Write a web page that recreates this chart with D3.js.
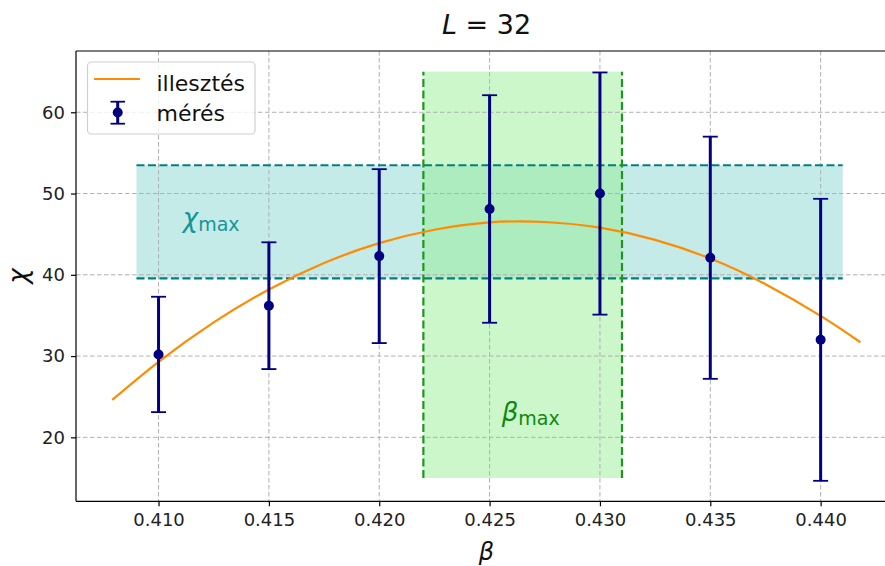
<!DOCTYPE html>
<html>
<head>
<meta charset="utf-8">
<script src="https://cdn.jsdelivr.net/npm/d3@7"></script>
<style>
  html, body { margin: 0; padding: 0; background: #fff; }
  svg { display: block; }
  text { font-family: "DejaVu Sans", sans-serif; }
</style>
</head>
<body>
<svg id="chart" width="885" height="566"></svg>
<script>
// ---- data ----
const betaVals = [0.410, 0.415, 0.420, 0.425, 0.430, 0.435, 0.440];
const chiVals  = [30.2, 36.2, 42.3, 48.1, 50.0, 42.1, 32.0];
const chiErr   = [7.1, 7.8, 10.7, 14.0, 14.9, 14.9, 17.35];

const fitBeta = [0.4079, 0.410, 0.4125, 0.415, 0.4175, 0.420, 0.4225, 0.425, 0.4275, 0.430, 0.4325, 0.435, 0.4375, 0.440, 0.4418];
const fitChi  = [24.6, 29.3, 34.15, 38.2, 41.45, 43.9, 45.55, 46.45, 46.5, 45.8, 44.3, 42.0, 38.85, 34.95, 31.7];

const chiMaxBand  = [39.55, 53.48];   // chi range of the horizontal band
const chiBandBeta = [0.409, 0.441];   // beta extent of that band
const betaMaxBand = [0.422, 0.431];   // beta range of the vertical band
const betaBandChi = [15, 65];         // chi extent of that band

const xTicks = [0.410, 0.415, 0.420, 0.425, 0.430, 0.435, 0.440];
const yTicks = [20, 30, 40, 50, 60];

const xDomain = [0.40626, 0.44346];
const yDomain = [12.13, 67.54];

const chiLabelPos  = [0.4111, 45.9];
const betaLabelPos = [0.42555, 22.03];

const legendLabels = ["illesztés", "mérés"];
const titleParts = ["L", " = 32"];

(function () {
// ---- layout ----
const svg = d3.select("#chart");
const pLeft = 76, pRight = 897, pTop = 51, pBottom = 501.3;

const x = d3.scaleLinear().domain(xDomain).range([pLeft, pRight]);
const y = d3.scaleLinear().domain(yDomain).range([pBottom, pTop]);

const plot = svg.append("g");

// band fills
plot.append("rect")
  .attr("x", x(chiBandBeta[0])).attr("width", x(chiBandBeta[1]) - x(chiBandBeta[0]))
  .attr("y", y(chiMaxBand[1])).attr("height", y(chiMaxBand[0]) - y(chiMaxBand[1]))
  .attr("fill", "#20b2aa").attr("fill-opacity", 0.26);
plot.append("rect")
  .attr("x", x(betaMaxBand[0])).attr("width", x(betaMaxBand[1]) - x(betaMaxBand[0]))
  .attr("y", y(betaBandChi[1])).attr("height", y(betaBandChi[0]) - y(betaBandChi[1]))
  .attr("fill", "#90ee90").attr("fill-opacity", 0.47);

// grid
const grid = plot.append("g");
grid.selectAll("line.gx").data(xTicks).join("line")
  .attr("x1", d => x(d)).attr("x2", d => x(d)).attr("y1", pTop).attr("y2", pBottom)
  .attr("stroke", "#b0b0b0").attr("stroke-width", 1).attr("stroke-dasharray", "4.5,2.5");
grid.selectAll("line.gy").data(yTicks).join("line")
  .attr("x1", pLeft).attr("x2", pRight).attr("y1", d => y(d)).attr("y2", d => y(d))
  .attr("stroke", "#b0b0b0").attr("stroke-width", 1).attr("stroke-dasharray", "4.5,2.5");

// band dashed edges
plot.selectAll("line.chiEdge").data(chiMaxBand).join("line")
  .attr("x1", x(chiBandBeta[0])).attr("x2", x(chiBandBeta[1]))
  .attr("y1", d => y(d)).attr("y2", d => y(d))
  .attr("stroke", "#008080").attr("stroke-width", 2.2).attr("stroke-dasharray", "8,3.5");
plot.selectAll("line.betaEdge").data(betaMaxBand).join("line")
  .attr("x1", d => x(d)).attr("x2", d => x(d))
  .attr("y1", y(betaBandChi[0])).attr("y2", y(betaBandChi[1]))
  .attr("stroke", "#1f961f").attr("stroke-width", 2.2).attr("stroke-dasharray", "8,3.5");

// fit curve
const fitData = fitBeta.map((b, i) => [b, fitChi[i]]);
plot.append("path")
  .datum(fitData)
  .attr("fill", "none").attr("stroke", "#ff8c00").attr("stroke-width", 2.2)
  .attr("d", d3.line().x(d => x(d[0])).y(d => y(d[1])).curve(d3.curveNatural));

// error bars
const meas = betaVals.map((b, i) => ({ b, v: chiVals[i], e: chiErr[i] }));
const eb = plot.append("g").selectAll("g").data(meas).join("g");
eb.append("line")
  .attr("x1", d => x(d.b)).attr("x2", d => x(d.b))
  .attr("y1", d => y(d.v - d.e)).attr("y2", d => y(d.v + d.e))
  .attr("stroke", "#000080").attr("stroke-width", 3);
[-1, 1].forEach(s => {
  eb.append("line")
    .attr("x1", d => x(d.b) - 7.5).attr("x2", d => x(d.b) + 7.5)
    .attr("y1", d => y(d.v + s * d.e)).attr("y2", d => y(d.v + s * d.e))
    .attr("stroke", "#000080").attr("stroke-width", 1.8);
});
eb.append("circle")
  .attr("cx", d => x(d.b)).attr("cy", d => y(d.v)).attr("r", 5)
  .attr("fill", "#000080");

// annotations
function subLabel(g, sym, sub, px, py, color) {
  const t = g.append("text").attr("x", px).attr("y", py).attr("fill", color).attr("font-size", 26);
  t.append("tspan").attr("font-style", "italic").text(sym);
  t.append("tspan").attr("font-size", 19).attr("dy", 4).text(sub);
}
subLabel(plot, "χ", "max", x(chiLabelPos[0]), y(chiLabelPos[1]), "#159696");
subLabel(plot, "β", "max", x(betaLabelPos[0]), y(betaLabelPos[1]), "#118811");

// axes
const xAxis = d3.axisBottom(x).tickValues(xTicks).tickFormat(d3.format(".3f")).tickSize(5).tickPadding(7);
const yAxis = d3.axisLeft(y).tickValues(yTicks).tickFormat(d3.format("d")).tickSize(5).tickPadding(6);
const gx = svg.append("g").attr("transform", `translate(0,${pBottom})`).call(xAxis);
const gy = svg.append("g").attr("transform", `translate(${pLeft},0)`).call(yAxis);
[gx, gy].forEach(g => {
  g.select(".domain").remove();
  g.selectAll(".tick line").attr("stroke", "#000").attr("stroke-width", 1.2);
  g.selectAll(".tick text").attr("font-size", 18).attr("fill", "#222").attr("font-family", "DejaVu Sans");
});
// spines
svg.append("line").attr("x1", pLeft).attr("x2", pLeft).attr("y1", pTop).attr("y2", pBottom).attr("stroke", "#000").attr("stroke-width", 1.2);
svg.append("line").attr("x1", pLeft).attr("x2", pRight).attr("y1", pBottom).attr("y2", pBottom).attr("stroke", "#000").attr("stroke-width", 1.2);
svg.append("line").attr("x1", pLeft).attr("x2", pRight).attr("y1", pTop).attr("y2", pTop).attr("stroke", "#000").attr("stroke-width", 1.2);

// axis labels
svg.append("text").attr("x", (pLeft + pRight) / 2).attr("y", 560).attr("text-anchor", "middle")
  .attr("font-size", 24).attr("font-style", "italic").attr("fill", "#111").text("β");
svg.append("text").attr("transform", `translate(27,${(pTop + pBottom) / 2}) rotate(-90)`).attr("text-anchor", "middle")
  .attr("font-size", 26).attr("font-style", "italic").attr("fill", "#111").text("χ");

// title
const title = svg.append("text").attr("x", (pLeft + pRight) / 2).attr("y", 34).attr("text-anchor", "middle")
  .attr("font-size", 27).attr("fill", "#111");
title.append("tspan").attr("font-style", "italic").text(titleParts[0]);
title.append("tspan").text(titleParts[1]);

// legend
const lg = svg.append("g");
lg.append("rect").attr("x", 87.5).attr("y", 62).attr("width", 167.5).attr("height", 72).attr("rx", 4)
  .attr("fill", "#fff").attr("fill-opacity", 0.8).attr("stroke", "#d0d0d0").attr("stroke-width", 1.2);
lg.append("line").attr("x1", 94).attr("x2", 140).attr("y1", 79).attr("y2", 79)
  .attr("stroke", "#ff8c00").attr("stroke-width", 2.2);
lg.append("line").attr("x1", 117.7).attr("x2", 117.7).attr("y1", 101.7).attr("y2", 123.7)
  .attr("stroke", "#000080").attr("stroke-width", 3);
[101.7, 123.7].forEach(yy => lg.append("line").attr("x1", 110.5).attr("x2", 125).attr("y1", yy).attr("y2", yy)
  .attr("stroke", "#000080").attr("stroke-width", 1.8));
lg.append("circle").attr("cx", 117.7).attr("cy", 112.5).attr("r", 5).attr("fill", "#000080");
lg.selectAll("text.lt").data(legendLabels).join("text")
  .attr("x", 156.5).attr("y", (d, i) => i === 0 ? 90.5 : 120.5)
  .attr("font-size", 22).attr("fill", "#111").text(d => d);
})();
</script>
</body>
</html>
